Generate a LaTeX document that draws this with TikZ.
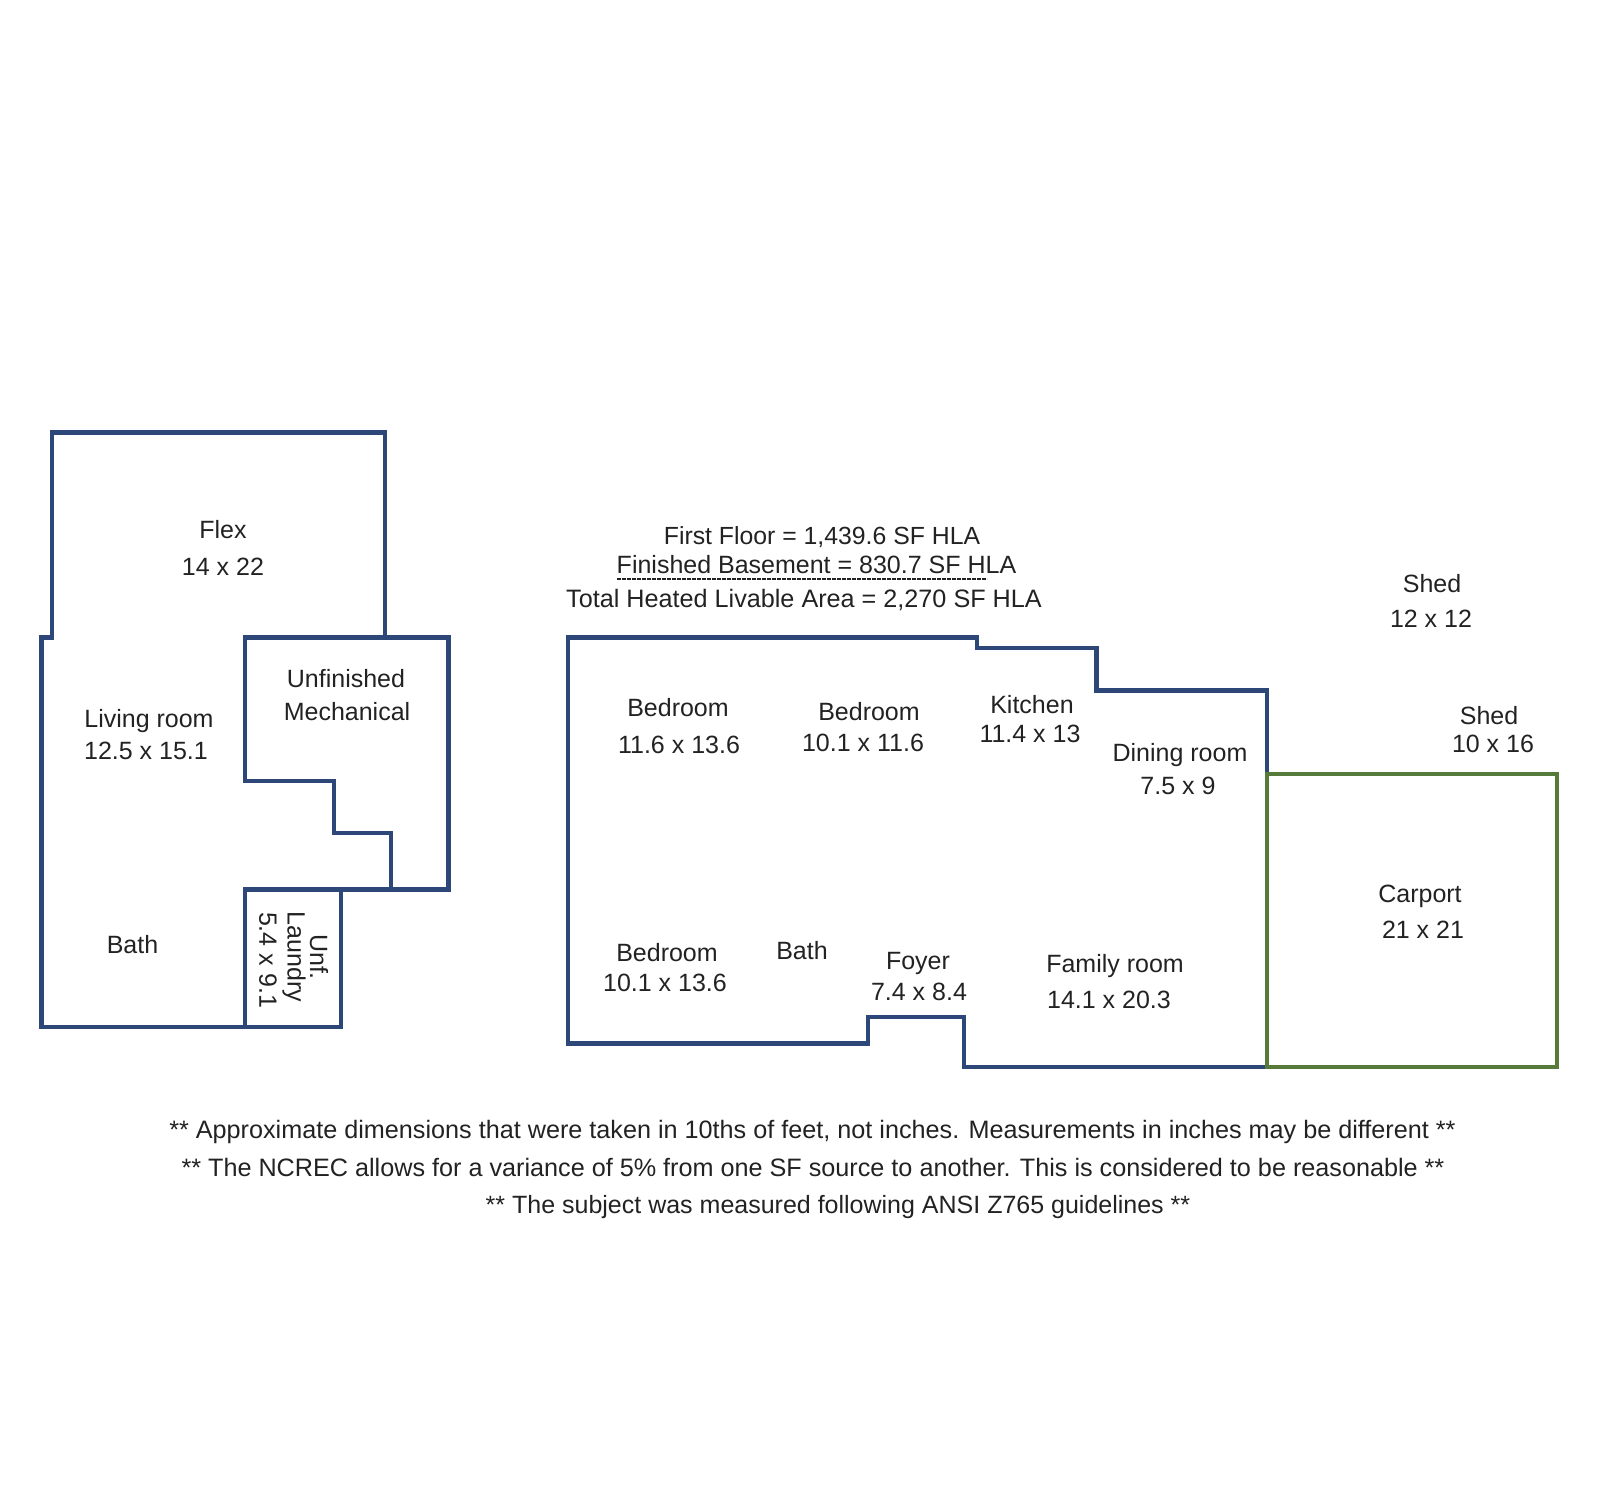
\documentclass[tikz,border=0pt]{standalone}
\usepackage{fontspec}
\setmainfont{Liberation Sans}
\definecolor{wallblue}{HTML}{2D4878}
\definecolor{carportgreen}{HTML}{557A3A}
\definecolor{labelgray}{HTML}{222222}
\tikzset{
	wall/.style={draw=wallblue,line width=2.1pt,line join=miter},
	carportwall/.style={draw=carportgreen,line width=2.1pt,line join=miter},
	lbl/.style={inner sep=0pt,text=labelgray,font=\fontsize{12.5}{15}\selectfont},
	note/.style={lbl,font=\fontsize{12.6}{15}\selectfont},
	vlbl/.style={lbl,rotate=-90},
}
\begin{document}
\begin{tikzpicture}[x=0.5pt,y=-0.5pt]
	\useasboundingbox (0,0) rectangle (1600,1499);
	% lower level
	\draw[wall] (385,637.5) -- (385,432.5) -- (52,432.5) -- (52,637.5) -- (41.5,637.5)
		-- (41.5,1027) -- (341,1027) -- (341,889.5) -- (245,889.5) -- (245,1027);
	\draw[wall] (245,889.5) -- (448.5,889.5) -- (448.5,637.5) -- (245,637.5) -- (245,781)
		-- (334,781) -- (334,833) -- (391,833) -- (391,889.5);
	% main level
	\draw[wall] (568,637.5) -- (977,637.5) -- (977,648) -- (1096.5,648) -- (1096.5,690.5)
		-- (1267,690.5) -- (1267,1067) -- (964,1067) -- (964,1017) -- (868,1017)
		-- (868,1043.5) -- (568,1043.5) -- cycle;
	\draw[carportwall] (1267,774) rectangle (1557,1067);
	% lower level labels
	\node[lbl] (flex) at (223,530) {Flex};
	\node[lbl] (flex-size) at (223,567) {14 x 22};
	\node[lbl] (living) at (149,721) {Living room};
	\node[lbl] (living-size) at (146,751) {12.5 x 15.1};
	\node[lbl] (unfinished) at (346,679) {Unfinished};
	\node[lbl] (mechanical) at (347,712) {Mechanical};
	\node[lbl] (bath-low) at (132.5,945) {Bath};
	\node[vlbl] (unf) at (319,957) {Unf.};
	\node[vlbl] (laundry) at (294,957) {Laundry};
	\node[vlbl] (laundry-size) at (268,960) {5.4 x 9.1};
	% area totals
	\node[lbl,font=\fontsize{12.4}{15}\selectfont] (first) at (822,537.5) {First Floor = 1,439.6 SF HLA};
	\node[lbl] (finished) at (816.5,565) {Finished Basement = 830.7 SF HLA};
	\node[lbl,font=\fontsize{12.6}{15}\selectfont] (total) at (804,600) {Total Heated Livable Area = 2,270 SF HLA};
	\coordinate (sum-a) at (617,579);
	\coordinate (sum-b) at (987,579);
	\draw[labelgray,line width=0.9pt,dash pattern=on 2pt off 0.5pt] (sum-a) -- (sum-b);
	% main level labels
	\node[lbl] (bed-a) at (678,708) {Bedroom};
	\node[lbl] (bed-a-size) at (679,745) {11.6 x 13.6};
	\node[lbl] (bed-b) at (869,712) {Bedroom};
	\node[lbl] (bed-b-size) at (863,743) {10.1 x 11.6};
	\node[lbl] (kitchen) at (1032,705) {Kitchen};
	\node[lbl] (kitchen-size) at (1030,733.5) {11.4 x 13};
	\node[lbl] (dining) at (1180,755) {Dining room};
	\node[lbl] (dining-size) at (1178,786) {7.5 x 9};
	\node[lbl] (bed-c) at (667,952.5) {Bedroom};
	\node[lbl] (bed-c-size) at (665,983) {10.1 x 13.6};
	\node[lbl] (bath-main) at (802,951) {Bath};
	\node[lbl] (foyer) at (918,963) {Foyer};
	\node[lbl] (foyer-size) at (919,992) {7.4 x 8.4};
	\node[lbl] (family) at (1115,966) {Family room};
	\node[lbl] (family-size) at (1109,1000) {14.1 x 20.3};
	\node[lbl] (shed-a) at (1432,584) {Shed};
	\node[lbl] (shed-a-size) at (1431,619) {12 x 12};
	\node[lbl] (shed-b) at (1489,715.5) {Shed};
	\node[lbl] (shed-b-size) at (1493,744) {10 x 16};
	\node[lbl] (carport) at (1420,896.5) {Carport};
	\node[lbl] (carport-size) at (1423,930) {21 x 21};
	% notes
	\node[note] (note-a) at (812.5,1132) {** Approximate dimensions that were taken in 10ths of feet, not inches. Measurements in inches may be different **};
	\node[note] (note-b) at (813,1167) {** The NCREC allows for a variance of 5\% from one SF source to another. This is considered to be reasonable **};
	\node[lbl] (note-c) at (838,1207) {** The subject was measured following ANSI Z765 guidelines **};
\end{tikzpicture}
\end{document}
